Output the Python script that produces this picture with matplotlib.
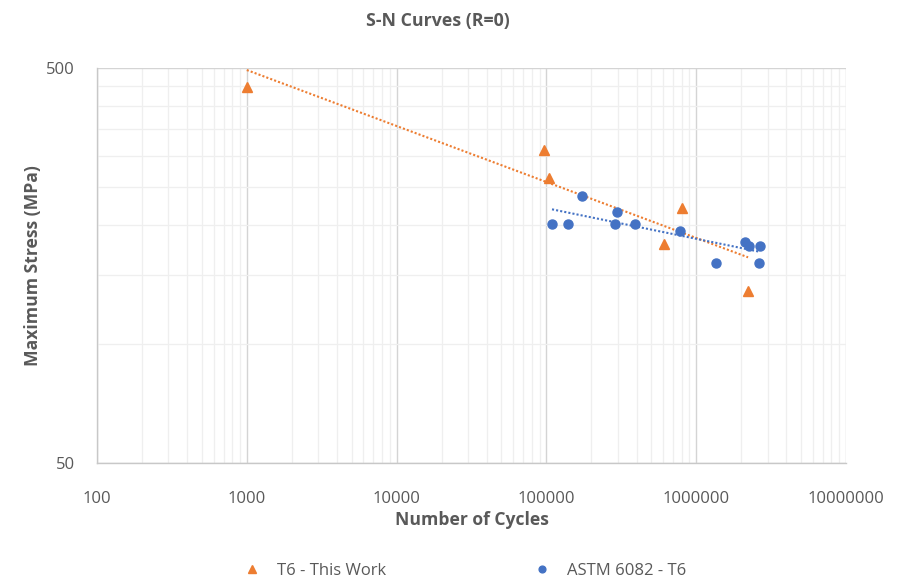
import numpy as np
import matplotlib
matplotlib.use("Agg")
import matplotlib.pyplot as plt
from matplotlib.ticker import FixedLocator, FixedFormatter, NullFormatter

plt.rcParams['font.family'] = ['Open Sans', 'DejaVu Sans']

# ---- data ----
t6_cycles = [1000, 95800, 103500, 805000, 607000, 2220000]
t6_stress = [447, 310, 263, 221, 179, 136.5]

astm_cycles = [109000, 138700, 173000, 296000, 286000, 388000, 784000,
               1365000, 2130000, 2260000, 2650000, 2620000]
astm_stress = [201, 201, 237.5, 215.5, 201, 201, 193.7,
               160, 181.7, 177, 177, 160]

# power trendlines  S = a * N^b  (as shown on the chart)
t6_trend = (1315.0, -0.1417)
astm_trend = (539.0, -0.0775)

x_ticks = [100, 1000, 10000, 100000, 1000000, 10000000]
x_tick_labels = ["100", "1000", "10000", "100000", "1000000", "10000000"]
y_ticks = [50, 500]
y_tick_labels = ["50", "500"]
y_minor = [100, 150, 200, 250, 300, 350, 400, 450]

orange = "#ED7D31"
blue = "#4472C4"
txt = "#595959"

fig = plt.figure(figsize=(9.04, 5.81), dpi=100)
ax = fig.add_axes([97/904, 1-463/581, (846-97)/904, (463-68)/581])

ax.set_xscale("log")
ax.set_yscale("log")
ax.set_xlim(100, 1e7)
ax.set_ylim(50, 500)

# gridlines
ax.xaxis.set_major_locator(FixedLocator(x_ticks))
ax.xaxis.set_major_formatter(FixedFormatter(x_tick_labels))
ax.xaxis.set_minor_locator(FixedLocator([m * 10**d for d in range(2, 7) for m in range(2, 10)]))
ax.xaxis.set_minor_formatter(NullFormatter())
ax.yaxis.set_major_locator(FixedLocator(y_ticks))
ax.yaxis.set_major_formatter(FixedFormatter(y_tick_labels))
ax.yaxis.set_minor_locator(FixedLocator(y_minor))
ax.yaxis.set_minor_formatter(NullFormatter())
ax.grid(True, which="major", color="#d4d4d4", linewidth=1.0, zorder=0)
ax.grid(True, which="minor", color="#efefef", linewidth=0.9, zorder=0)
ax.set_axisbelow(True)

for s in ["top", "right"]:
    ax.spines[s].set_visible(False)
for s in ["left", "bottom"]:
    ax.spines[s].set_color("#c8c8c8")
    ax.spines[s].set_linewidth(1.0)

ax.tick_params(which="both", length=0)
ax.tick_params(axis="x", pad=20, labelsize=12, labelcolor=txt)
ax.tick_params(axis="y", pad=16, labelsize=12, labelcolor=txt)

# trendlines
for cyc, (a, b), col in [(t6_cycles, t6_trend, orange), (astm_cycles, astm_trend, blue)]:
    xs = np.logspace(np.log10(min(cyc)), np.log10(max(cyc)), 50)
    ax.plot(xs, a * xs**b, linestyle=(0, (1, 1)), color=col, linewidth=1.5, zorder=2)

ax.plot(t6_cycles, t6_stress, linestyle="none", marker="^", markersize=7,
        color=orange, label="T6 - This Work", zorder=3)
ax.plot(astm_cycles, astm_stress, linestyle="none", marker="o", markersize=6.5,
        color=blue, label="ASTM 6082 - T6", zorder=3)

fig.text(438/904, 1-21/581, "S-N Curves (R=0)", ha="center", va="center",
         fontsize=12.8, fontweight="bold", color=txt)
ax.set_xlabel("Number of Cycles", fontsize=12.6, fontweight="bold", color=txt, labelpad=3)
ax.set_ylabel("Maximum Stress (MPa)", fontsize=12.6, fontweight="bold", color=txt, labelpad=3)

fig.legend(loc="center", bbox_to_anchor=(465/904, 1-571/581), ncol=2, frameon=False,
           fontsize=12, labelcolor=txt, handlelength=1.0, handletextpad=1.0,
           columnspacing=8.9, markerscale=0.75)

fig.savefig("out.png", dpi=100)
